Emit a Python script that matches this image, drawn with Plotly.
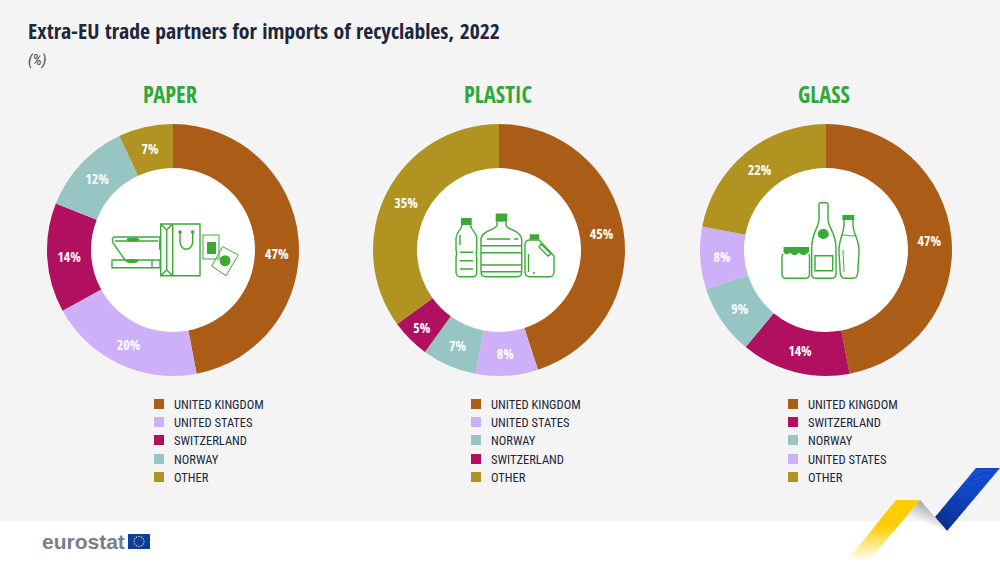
import math
import re
import plotly.graph_objects as go

W, H = 1000, 563

panel_titles = ["PAPER", "PLASTIC", "GLASS"]
paper_labels = ["UNITED KINGDOM", "UNITED STATES", "SWITZERLAND", "NORWAY", "OTHER"]
paper_values = [47, 20, 14, 12, 7]
plastic_labels = ["UNITED KINGDOM", "UNITED STATES", "NORWAY", "SWITZERLAND", "OTHER"]
plastic_values = [45, 8, 7, 5, 35]
glass_labels = ["UNITED KINGDOM", "SWITZERLAND", "NORWAY", "UNITED STATES", "OTHER"]
glass_values = [47, 14, 9, 8, 22]

COLORS = {
    "UNITED KINGDOM": "#ab5d18",
    "UNITED STATES": "#cdb0f7",
    "SWITZERLAND": "#b0105f",
    "NORWAY": "#96c5c3",
    "OTHER": "#b09320",
}
GREEN = "#3aaa35"
INK = "#20263a"
HEAVY = "Open Sans Condensed"
NARROW = "Roboto Condensed"

CENTERS = [173, 499, 826]
CY, R_OUT, R_IN = 250, 126, 82


def fx(x):
    return x / W


def fy(y):
    return 1 - y / H


def pth(d):
    # icon paths are written in screen pixels, shapes want paper fractions
    return re.sub(r"(-?[\d.]+),(-?[\d.]+)",
                  lambda m: f"{fx(float(m[1])):.5f},{fy(float(m[2])):.5f}", d)


shapes = []
annotations = []


def rect(x0, y0, x1, y1, fill, layer="above"):
    shapes.append(dict(type="rect", xref="paper", yref="paper", x0=fx(x0), x1=fx(x1),
                       y0=fy(y0), y1=fy(y1), fillcolor=fill, line_width=0, layer=layer))


def circle(cx, cy, rx, ry, fill, layer="above"):
    shapes.append(dict(type="circle", xref="paper", yref="paper", x0=fx(cx - rx), x1=fx(cx + rx),
                       y0=fy(cy + ry), y1=fy(cy - ry), fillcolor=fill, line_width=0, layer=layer))


def stroke(d, width=1.4):
    shapes.append(dict(type="path", xref="paper", yref="paper", path=pth(d),
                       line=dict(color=GREEN, width=width), layer="above"))


def solid(d, fill=GREEN):
    shapes.append(dict(type="path", xref="paper", yref="paper", path=pth(d),
                       fillcolor=fill, line_width=0, layer="above"))


def text(x, y, s, size, color=INK, anchor="left", family=NARROW):
    annotations.append(dict(xref="paper", yref="paper", x=fx(x), y=fy(y), text=s, showarrow=False,
                            xanchor=anchor, yanchor="middle", borderpad=0,
                            font=dict(size=size, color=color, family=family)))


def mix(c0, c1, t):
    return "rgb(" + ",".join(str(round(a + (b - a) * t)) for a, b in zip(c0, c1)) + ")"


def ribbon(tl, tr, br, bl, c_at, steps=24):
    # no gradients on shapes, so stack thin slices
    for i in range(steps):
        a, b = i / steps, (i + 1.15) / steps
        b = min(b, 1)
        p = [(tl[k] + (bl[k] - tl[k]) * a, tr[k] + (br[k] - tr[k]) * a,
              tr[k] + (br[k] - tr[k]) * b, tl[k] + (bl[k] - tl[k]) * b) for k in (0, 1)]
        solid(f"M {p[0][0]:.2f},{p[1][0]:.2f} L {p[0][1]:.2f},{p[1][1]:.2f} "
              f"L {p[0][2]:.2f},{p[1][2]:.2f} L {p[0][3]:.2f},{p[1][3]:.2f} Z", c_at(i / (steps - 1)))


# backgrounds
rect(0, 0, W, 521, "#f4f4f4", layer="below")
for cx in CENTERS:
    circle(cx, CY, R_IN + 1, R_IN + 1, "#ffffff", layer="below")

# titles
text(26.5, 30, "<b>Extra-EU trade partners for imports of recyclables, 2022</b>", 21.7, family=HEAVY)
text(26.5, 60, "<i>(%)</i>", 15, color="#3c4152")
for name, x in zip(panel_titles, [170, 498, 824]):
    text(x, 95, f"<b>{name}</b>", 22.5, color="#2ea836", anchor="center", family=HEAVY)

# legends
LEGEND_Y = [404, 422, 440, 459, 477]
LEGEND_X = [154, 471, 788]
for labels, x in zip([paper_labels, plastic_labels, glass_labels], LEGEND_X):
    for lab, y in zip(labels, LEGEND_Y):
        rect(x, y - 5, x + 10, y + 5, COLORS[lab])
        text(x + 19, y, lab, 12.5)

# the first paper label sits lower than the slice middle in the original
text(277, 253, f"<b>{paper_values[0]}%</b>", 14, color="#ffffff", anchor="center", family=HEAVY)

# paper icon
stroke("M 160.7,224 L 200,224 L 200,275.7 L 160.7,275.7 Z")
stroke("M 172.7,224 L 172.7,275.7 M 166.7,230 L 166.7,270 M 160.7,224 L 166.7,230 L 172.7,224 "
       "M 160.7,275.7 L 166.7,270 L 172.7,275.7")
stroke("M 180,232 L 180,241 C 180,252 192.7,252 192.7,241 L 192.7,232")
circle(180, 232, 1.8, 1.8, GREEN)
circle(192.7, 232, 1.8, 1.8, GREEN)
stroke("M 160,237 L 115,237 C 112,237 112,240 113,243 L 125,260")
stroke("M 115,241 L 158,241 M 160,237 C 160,242 159,244 160,250")
stroke("M 112,260 L 160,260 L 160,267.7 L 112,267.7 Z M 152,260 L 152,267.7")
circle(133, 239.5, 6.5, 2, GREEN)
circle(132, 261, 6.5, 2, GREEN)
stroke("M 203,235 L 219,235 L 219,259 L 203,259 Z", 1)
solid("M 207,242 L 216,242 L 216,254 L 207,254 Z")
stroke("M 222.7,246.7 L 238.3,255 L 226,275.7 L 211.7,266 Z", 1)
circle(225, 260.7, 5.5, 5.5, GREEN)

# plastic icon
solid("M 461,218 L 471.7,218 L 471.7,225 L 461,225 Z")
stroke("M 462,225 C 461,231 456,232 456,238 L 456,250 C 457,253 457,254 456,257 L 456,272 "
       "C 456,275 458,276.7 460,276.7 L 473,276.7 C 475,276.7 476.7,275 476.7,272 L 476.7,257 "
       "C 476,254 476,253 476.7,250 L 476.7,238 C 476.7,232 471,231 470.5,225")
stroke("M 460,252.3 L 473,252.3 M 460,260.7 L 473,260.7 M 460,269 L 473,269 M 460,235 L 460,245")
solid("M 495.7,213.5 L 507.3,213.5 L 507.3,221.7 L 495.7,221.7 Z")
stroke("M 497,222 L 497,225 C 497,230 481,230 481,240 L 481,272 C 481,275 483,276.7 486,276.7 "
       "L 517,276.7 C 520,276.7 521.7,275 521.7,272 L 521.7,240 C 521.7,230 506,230 506,225 L 506,222")
stroke("M 481,245.7 L 521.7,245.7 M 481,252.7 L 521.7,252.7 M 481,265 L 521.7,265 "
       "M 481,271.7 L 521.7,271.7 M 487,239 L 510,239 M 514,239 L 518,239")
solid("M 529.7,234.3 L 539,234.3 L 539,239.5 L 529.7,239.5 Z")
stroke("M 530,240 L 539,240 L 554,256 L 554,272 C 554,275 552,276.7 550,276.7 L 530,276.7 "
       "C 527,276.7 525,275 525,272 L 525,245 C 525,242 527,240 530,240")
stroke("M 541,244 L 551,254 L 548,256 L 539,247 Z")
stroke("M 528.5,254 L 528.5,272 M 533,273 L 535,273")

# glass icon
solid("M 783.5,247 L 809,247 L 809,252 C 805,256 802,256 799,252.5 C 796,256 793,256 790,252.5 "
      "C 788,255 785,255 783.5,252 Z")
stroke("M 783,254 C 781,257 782,259 782,262 L 782,274 C 782,277 784,278.3 786,278.3 "
       "L 805,278.3 C 808,278.3 809.5,277 809.5,274 L 809.5,262 C 809.5,259 810,257 809,254")
stroke("M 819,204 C 819,203 820,202.7 821,202.7 L 826,202.7 C 827,202.7 828,203 828,204 L 828,219 "
       "C 828,228 836,232 836,248 L 836,274 C 836,277 834,278.3 831,278.3 L 816,278.3 "
       "C 813,278.3 811.7,277 811.7,274 L 811.7,248 C 811.7,232 819,228 819,219 Z")
circle(823.3, 234, 5.5, 5, GREEN)
stroke("M 815,255.7 L 832.7,255.7 L 832.7,270.7 L 815,270.7 Z")
solid("M 842.3,215 L 854.3,215 L 854.3,220 L 842.3,220 Z")
stroke("M 844,220 L 844,226 C 843,235 839,240 839,250 C 839,258 840,262 840,270 C 840,276 842,278.3 845,278.3 "
       "L 853,278.3 C 856,278.3 858,276 858,270 C 858,262 859,258 859,250 C 859,240 854,235 853,226 L 853,220")
stroke("M 841.5,236 C 846,233 851,238 856.5,235 M 843,250 C 843,258 844,264 844,272", 1)

# eurostat logo
text(41, 541, "<b>eurostat</b>", 21, color="#7a7d8c", family="Liberation Sans")
rect(128, 534, 150, 549, "#0f3d9f")
for i in range(12):
    a = i * math.pi / 6
    circle(139 + 5 * math.cos(a), 541.5 + 5 * math.sin(a), 0.8, 0.8, "#e0c13a")

# ribbon in the corner
BLUE_TOP, BLUE_LOW = (16, 72, 208), (10, 46, 140)
GREY_TOP, GREY_LOW = (150, 151, 156), (240, 240, 242)
YELLOW, WHITE = (255, 204, 0), (255, 255, 255)
ribbon((976, 468), (1000, 468), (947, 531), (935, 517),
       lambda t: mix(BLUE_TOP, BLUE_LOW, t ** 2))
ribbon((920, 500), (920, 500), (947, 531), (908, 515),
       lambda t: mix(GREY_TOP, GREY_LOW, t))
ribbon((896, 500), (920, 500), (867, 563), (845, 563),
       lambda t: mix(YELLOW, WHITE, max(0, (t - 0.4) / 0.6)))

fig = go.Figure()
for cx, labels, values, name in zip(CENTERS,
                                    [paper_labels, plastic_labels, glass_labels],
                                    [paper_values, plastic_values, glass_values],
                                    panel_titles):
    slice_text = [f"<b>{v}%</b>" for v in values]
    if name == "PAPER":
        slice_text[0] = ""
    fig.add_trace(go.Pie(
        labels=labels,
        values=values,
        name=name,
        hole=R_IN / R_OUT,
        sort=False,
        direction="clockwise",
        rotation=0,
        domain=dict(x=[fx(cx - R_OUT), fx(cx + R_OUT)], y=[fy(CY + R_OUT), fy(CY - R_OUT)]),
        marker=dict(colors=[COLORS[l] for l in labels], line=dict(width=0)),
        text=slice_text,
        textinfo="text",
        textposition="inside",
        insidetextorientation="horizontal",
        insidetextfont=dict(size=14, color="#ffffff", family=HEAVY),
        showlegend=False,
    ))

fig.update_layout(
    width=W,
    height=H,
    margin=dict(l=0, r=0, t=0, b=0),
    paper_bgcolor="#ffffff",
    shapes=shapes,
    annotations=annotations,
)

fig.write_html("out.html", config=dict(displayModeBar=False),
               post_script="document.body.style.margin='0';")
